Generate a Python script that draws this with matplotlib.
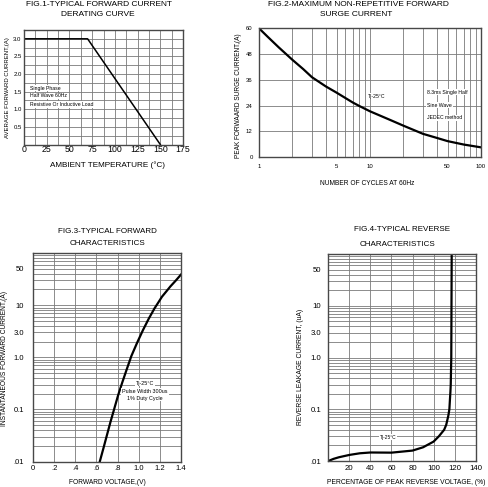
import numpy as np
import matplotlib
matplotlib.use('Agg')
import matplotlib.pyplot as plt
from matplotlib.ticker import FixedLocator, NullFormatter

plt.rcParams['font.family'] = ['Liberation Sans', 'DejaVu Sans']

W, H = 488, 487

# fig.1 derating curve
temp = [0, 70, 150]
avg_current = [3.0, 3.0, 0.0]
fig1_xticks = [0, 25, 50, 75, 100, 125, 150, 175]
fig1_yticks = [0.5, 1.0, 1.5, 2.0, 2.5, 3.0]

# fig.2 surge current
cycles = [1, 1.2, 1.5, 2, 2.5, 3, 4, 5, 6, 7, 8, 10, 15, 20, 30, 40, 50, 70, 100]
surge = [60, 56.0, 51.2, 45.3, 41.0, 37.2, 32.9, 30.0, 27.5, 25.4, 23.8, 21.3, 17.4, 14.6,
         10.8, 8.9, 7.4, 5.8, 4.5]
fig2_xticks = [1, 5, 10, 50, 100]
fig2_yticks = [0, 12, 24, 36, 48, 60]

# fig.3 forward characteristics
vf = [0.632, 0.667, 0.70, 0.733, 0.767, 0.805, 0.845, 0.887, 0.93, 0.985, 1.04,
      1.095, 1.15, 1.185, 1.22, 1.26, 1.30, 1.35, 1.40]
i_f = [0.01, 0.0182, 0.0324, 0.0575, 0.1, 0.186, 0.331, 0.589, 1.05, 1.9, 3.31,
       5.5, 8.7, 11.2, 14.5, 18.2, 22.9, 29.5, 38.6]
fig3_xticks = [0, 0.2, 0.4, 0.6, 0.8, 1.0, 1.2, 1.4]
fig3_xlabels = ['0', '.2', '.4', '.6', '.8', '1.0', '1.2', '1.4']

# fig.4 reverse characteristics
pct = [0, 5, 10, 20, 30, 40, 60, 80, 90, 100, 105, 110, 112, 114, 115, 115.5, 116,
       116.3, 116.8, 117.0, 117.2]
i_r = [0.01, 0.011, 0.0118, 0.0131, 0.0141, 0.0146, 0.0145, 0.0159, 0.0184, 0.0237,
       0.03, 0.04, 0.05, 0.075, 0.1, 0.15, 0.22, 0.3, 1.0, 10, 100]
fig4_xticks = [20, 40, 60, 80, 100, 120, 140]

log_yticks = [0.01, 0.1, 1, 3, 10, 50]
log_ylabels = ['.01', '0.1', '1.0', '3.0', '10', '50']

GRID = '#7a7a7a'
FRAME = '#484848'


def px_axes(fig, l, t, r, b):
    return fig.add_axes([l / W, 1 - b / H, (r - l) / W, (b - t) / H])


def px_text(fig, x, y, s, size, **kw):
    kw.setdefault('ha', 'center')
    kw.setdefault('va', 'center')
    fig.text(x / W, 1 - y / H, s, fontsize=size, **kw)


def style(ax, xpad, ypad, size):
    for sp in ax.spines.values():
        sp.set_color(FRAME)
        sp.set_linewidth(1.0)
        sp.set_zorder(5)
    ax.tick_params(which='both', length=0, labelsize=size)
    ax.tick_params(axis='x', pad=xpad)
    ax.tick_params(axis='y', pad=ypad)
    ax.grid(which='both', color=GRID, linewidth=0.6)
    ax.set_axisbelow(True)


box = dict(facecolor='white', edgecolor='none', pad=0.6)

fig = plt.figure(figsize=(W / 100, H / 100), dpi=100)

# ---- FIG.1
ax1 = px_axes(fig, 24, 30, 183, 144.5)
ax1.plot(temp, avg_current, color='black', linewidth=1.1, zorder=3)
ax1.set_xlim(0, 175)
ax1.set_ylim(0, 3.25)
ax1.set_xticks(fig1_xticks)
ax1.set_yticks(fig1_yticks)
ax1.set_yticklabels(['%.1f' % v for v in fig1_yticks])
ax1.xaxis.set_minor_locator(FixedLocator(np.arange(0, 175, 12.5)))
ax1.yaxis.set_minor_locator(FixedLocator(np.arange(0, 3.25, 0.25)))
style(ax1, 0.5, 1.7, 4.3)
ax1.tick_params(axis='x', labelsize=6.3)
for y, s in [(1.6, 'Single Phase'), (1.38, 'Half Wave 60Hz'), (1.14, 'Resistive Or Inductive Load')]:
    ax1.text(6.6, y, s, fontsize=3.7, va='center', ha='left', bbox=box, zorder=4)
px_text(fig, 99, 4.5, 'FIG.1-TYPICAL FORWARD CURRENT', 6)
px_text(fig, 97.5, 15, 'DERATING CURVE', 6)
px_text(fig, 107.7, 165, 'AMBIENT TEMPERATURE (°C)', 5.9)
px_text(fig, 7.5, 88, 'AVERAGE FORWARD CURRENT,(A)', 4.35, rotation=90)

# ---- FIG.2
ax2 = px_axes(fig, 259, 28.3, 481, 157)
ax2.plot(cycles, surge, color='black', linewidth=1.6, zorder=3)
ax2.set_xscale('log')
ax2.set_xlim(1, 100)
ax2.set_ylim(0, 60)
ax2.set_xticks(fig2_xticks)
ax2.set_xticklabels([str(v) for v in fig2_xticks])
ax2.xaxis.set_minor_locator(FixedLocator([2, 3, 4, 6, 7, 8, 9, 20, 30, 40, 60, 70, 80, 90]))
ax2.xaxis.set_minor_formatter(NullFormatter())
ax2.set_yticks(fig2_yticks)
style(ax2, 5, 4.5, 4.3)
ax2.text(9.6, 28.4, 'Tj-25°C', fontsize=3.7, va='center', ha='left', bbox=box, zorder=4)
for y, s in [(30.3, '8.3ms Single Half'), (24.2, 'Sine Wave'), (18.2, 'JEDEC method')]:
    ax2.text(32.7, y, s, fontsize=3.7, va='center', ha='left', bbox=box, zorder=4)
px_text(fig, 358, 5, 'FIG.2-MAXIMUM NON-REPETITIVE FORWARD', 6)
px_text(fig, 356.5, 14, 'SURGE CURRENT', 6)
px_text(fig, 367, 183, 'NUMBER OF CYCLES AT 60Hz', 4.8)
px_text(fig, 238, 96, 'PEAK FORWAARD SURGE CURRENT,(A)', 4.7, rotation=90)

# ---- FIG.3
ax3 = px_axes(fig, 33, 253, 181, 461.5)
ax3.plot(vf, i_f, color='black', linewidth=1.6, zorder=3)
ax3.set_yscale('log')
ax3.set_xlim(0, 1.4)
ax3.set_ylim(0.01, 100)
ax3.set_xticks(fig3_xticks)
ax3.set_xticklabels(fig3_xlabels)
ax3.yaxis.set_major_locator(FixedLocator(log_yticks))
ax3.set_yticklabels(log_ylabels)
ax3.yaxis.set_minor_locator(FixedLocator([m * 10.0 ** e for e in range(-2, 2) for m in range(1, 10)]))
ax3.yaxis.set_minor_formatter(NullFormatter())
style(ax3, 2.5, 6.3, 5.5)
for y, s in [(0.32, 'Tj-25°C'), (0.22, 'Pulse Width 300us'), (0.164, '1% Duty Cycle')]:
    ax3.text(1.06, y, s, fontsize=3.9, va='center', ha='center', bbox=box, zorder=4)
px_text(fig, 107, 232, 'FIG.3-TYPICAL FORWARD', 5.8)
px_text(fig, 107, 243.3, 'CHARACTERISTICS', 5.8)
px_text(fig, 107, 482, 'FORWARD VOLTAGE,(V)', 4.75)
px_text(fig, 4.5, 358, 'INSTANTANEOUS FORWARD CURRENT,(A)', 4.75, rotation=90)

# ---- FIG.4
ax4 = px_axes(fig, 328.3, 254, 475.7, 461)
ax4.plot(pct, i_r, color='black', linewidth=1.6, zorder=3)
ax4.set_yscale('log')
ax4.set_xlim(0, 140)
ax4.set_ylim(0.01, 100)
ax4.set_xticks(fig4_xticks)
ax4.yaxis.set_major_locator(FixedLocator(log_yticks))
ax4.set_yticklabels(log_ylabels)
ax4.yaxis.set_minor_locator(FixedLocator([m * 10.0 ** e for e in range(-2, 2) for m in range(1, 10)]))
ax4.yaxis.set_minor_formatter(NullFormatter())
style(ax4, 3, 5, 5.6)
ax4.text(56.7, 0.029, 'Tj-25°C', fontsize=3.5, va='center', ha='center', bbox=box, zorder=4)
px_text(fig, 402, 229.3, 'FIG.4-TYPICAL REVERSE', 5.8)
px_text(fig, 397.5, 244, 'CHARACTERISTICS', 5.8)
px_text(fig, 406, 482, 'PERCENTAGE OF PEAK REVERSE VOLTAGE, (%)', 4.9)
px_text(fig, 301, 367, 'REVERSE LEAKAGE CURRENT, (uA)', 4.9, rotation=90)

fig.savefig('out.png', dpi=100)
